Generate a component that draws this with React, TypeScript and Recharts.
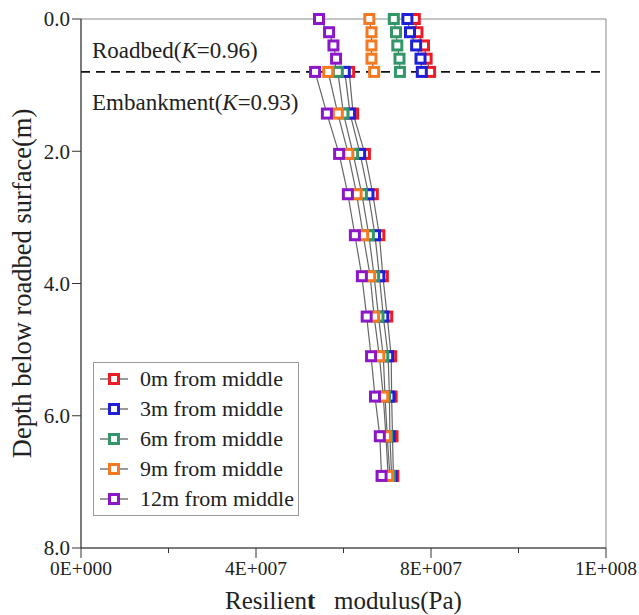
import React from 'react';
import {
    ScatterChart,
    Scatter,
    XAxis,
    YAxis,
    ReferenceLine,
    ReferenceArea,
    Legend,
    Label,
} from 'recharts';

// depth below roadbed surface (m)
const depthRoadbed = [0, 0.2, 0.4, 0.6, 0.8];
const depthEmbankment = [0.8, 1.43, 2.04, 2.65, 3.27, 3.89, 4.5, 5.1, 5.71, 6.31, 6.91];

// resilient modulus, in 1E7 Pa
const roadbed0 = [7.63, 7.69, 7.84, 7.9, 7.98];
const roadbed3 = [7.46, 7.52, 7.66, 7.76, 7.79];
const roadbed6 = [7.15, 7.2, 7.23, 7.28, 7.29];
const roadbed9 = [6.59, 6.64, 6.64, 6.64, 6.7];
const roadbed12 = [5.44, 5.67, 5.77, 5.83, 5.8];

const embank0 = [6.13, 6.22, 6.49, 6.67, 6.82, 6.9, 7.0, 7.09, 7.1, 7.12, 7.14];
const embank3 = [6.03, 6.15, 6.38, 6.57, 6.72, 6.82, 6.91, 7.02, 7.05, 7.06, 7.1];
const embank6 = [5.87, 6.0, 6.22, 6.42, 6.58, 6.7, 6.8, 6.91, 6.95, 7.0, 7.06];
const embank9 = [5.65, 5.87, 6.11, 6.3, 6.45, 6.61, 6.7, 6.82, 6.91, 6.97, 7.02];
const embank12 = [5.35, 5.62, 5.9, 6.1, 6.26, 6.42, 6.53, 6.63, 6.72, 6.83, 6.87];

const xTicks = [0, 2e7, 4e7, 6e7, 8e7, 1e8, 1.2e8];
const yTicks = [0, 2, 4, 6, 8];

const FONT = "'Liberation Serif', 'Times New Roman', serif";

const toPoints = (vals: number[], depths: number[]) =>
    vals.map((v, i) => ({ x: v * 1e7, y: depths[i] }));

// drawn in this order so purple ends up on top
const SERIES = [
    { name: '0m from middle', color: '#ed1c24', roadbed: roadbed0, embank: embank0 },
    { name: '3m from middle', color: '#1f1fd8', roadbed: roadbed3, embank: embank3 },
    { name: '6m from middle', color: '#319668', roadbed: roadbed6, embank: embank6 },
    { name: '9m from middle', color: '#f47920', roadbed: roadbed9, embank: embank9 },
    { name: '12m from middle', color: '#8b17c9', roadbed: roadbed12, embank: embank12 },
];

const sciLabel = (v: number) => {
    if (v === 0) return '0E+000';
    const exp = Math.floor(Math.log10(v));
    const mant = Math.round(v / Math.pow(10, exp));
    return `${mant}E+${String(exp).padStart(3, '0')}`;
};

const squareShape = (color: string) => (props: any) => {
    const { cx, cy } = props;
    if (cx == null || cy == null) return <g />;
    return (
        <rect x={cx - 4.5} y={cy - 4.5} width={9} height={9} fill="#fff" stroke={color} strokeWidth={3} />
    );
};

const XTick = (props: any) => {
    const { x, y, payload } = props;
    const major = Math.abs(payload.value % 4e7) < 1;
    const axisY = y - 12;
    return (
        <g>
            <line x1={x} x2={x} y1={axisY} y2={axisY + (major ? 10 : 5)} stroke="#333" />
            {major && (
                <text x={x} y={axisY + 12} dy="0.78em" textAnchor="middle" fontSize={19.5} fontFamily={FONT} fill="#222">
                    {sciLabel(payload.value)}
                </text>
            )}
        </g>
    );
};

const LegendBox = () => (
    <div
        style={{
            border: '1px solid #999',
            background: '#fff',
            padding: '1px 4px 1px 6px',
            fontFamily: FONT,
            fontSize: 22,
            color: '#222',
            whiteSpace: 'nowrap',
        }}
    >
        {SERIES.map((s) => (
            <div key={s.name} style={{ display: 'flex', alignItems: 'center', height: 30 }}>
                <svg width={28} height={14} style={{ marginRight: 12, flexShrink: 0 }}>
                    <line x1={0} x2={28} y1={7} y2={7} stroke="#555" strokeWidth={1.2} />
                    <rect x={9.5} y={2.5} width={9} height={9} fill="#fff" stroke={s.color} strokeWidth={3} />
                </svg>
                <span>{s.name}</span>
            </div>
        ))}
    </div>
);

export default function App() {
    return (
        <div style={{ position: 'absolute', left: 0, top: 0, width: 639, height: 615, background: '#fff' }}>
            <ScatterChart width={639} height={615} margin={{ top: 19, right: 33, bottom: 0, left: 0 }}>
                <XAxis
                    type="number"
                    dataKey="x"
                    domain={[0, 1.2e8]}
                    ticks={xTicks}
                    interval={0}
                    height={67}
                    tickSize={10}
                    tickMargin={2}
                    tickLine={false}
                    tick={<XTick />}
                    axisLine={{ stroke: '#333' }}
                >
                    <Label
                        content={({ viewBox }: any) => (
                            <text
                                x={viewBox.x + viewBox.width / 2}
                                y={viewBox.y + 61}
                                textAnchor="middle"
                                fontSize={25}
                                fontFamily={FONT}
                                fill="#222"
                            >
                                Resilien<tspan fontWeight="bold">t</tspan>{'\u00a0\u00a0 modulus(Pa)'}
                            </text>
                        )}
                    />
                </XAxis>
                <YAxis
                    type="number"
                    dataKey="y"
                    domain={[0, 8]}
                    ticks={yTicks}
                    reversed
                    width={81}
                    tickSize={9}
                    tickMargin={2}
                    tickFormatter={(v: number) => v.toFixed(1)}
                    tick={{ fontSize: 21, fontFamily: FONT, fill: '#222' }}
                    axisLine={{ stroke: '#333' }}
                    tickLine={{ stroke: '#333' }}
                >
                    <Label
                        content={({ viewBox }: any) => {
                            const cy = viewBox.y + viewBox.height / 2;
                            return (
                                <text
                                    x={31}
                                    y={cy}
                                    transform={`rotate(-90, 31, ${cy})`}
                                    textAnchor="middle"
                                    fontSize={26.5}
                                    fontFamily={FONT}
                                    fill="#222"
                                >
                                    Depth below roadbed surface(m)
                                </text>
                            );
                        }}
                    />
                </YAxis>
                <ReferenceArea x1={0} x2={1.2e8} y1={0} y2={8} fill="none" stroke="#8a8a8a" ifOverflow="visible" />
                <ReferenceLine
                    y={0.8}
                    stroke="#111"
                    strokeWidth={1.6}
                    strokeDasharray="9 6"
                    label={{
                        content: ({ viewBox }: any) => (
                            <g fontFamily={FONT} fontSize={23} fill="#222">
                                <text x={viewBox.x + 11} y={viewBox.y - 14}>
                                    Roadbed(<tspan fontStyle="italic">K</tspan>=0.96)
                                </text>
                                <text x={viewBox.x + 11} y={viewBox.y + 38}>
                                    Embankment(<tspan fontStyle="italic">K</tspan>=0.93)
                                </text>
                            </g>
                        ),
                    }}
                />
                {SERIES.map((s) => (
                    <Scatter
                        key={`rb-${s.name}`}
                        name={`${s.name} roadbed`}
                        data={toPoints(s.roadbed, depthRoadbed)}
                        line={{ stroke: '#666', strokeWidth: 1.2 }}
                        lineType="joint"
                        shape={squareShape(s.color)}
                        legendType="none"
                        isAnimationActive={false}
                    />
                ))}
                {SERIES.map((s) => (
                    <Scatter
                        key={`em-${s.name}`}
                        name={s.name}
                        data={toPoints(s.embank, depthEmbankment)}
                        line={{ stroke: '#666', strokeWidth: 1.2 }}
                        lineType="joint"
                        shape={squareShape(s.color)}
                        legendType="none"
                        isAnimationActive={false}
                    />
                ))}
                <Legend
                    layout="vertical"
                    align="center"
                    verticalAlign="middle"
                    content={() => <LegendBox />}
                    wrapperStyle={{ left: 93, top: 362, width: 'auto', height: 'auto' }}
                />
            </ScatterChart>
        </div>
    );
}
